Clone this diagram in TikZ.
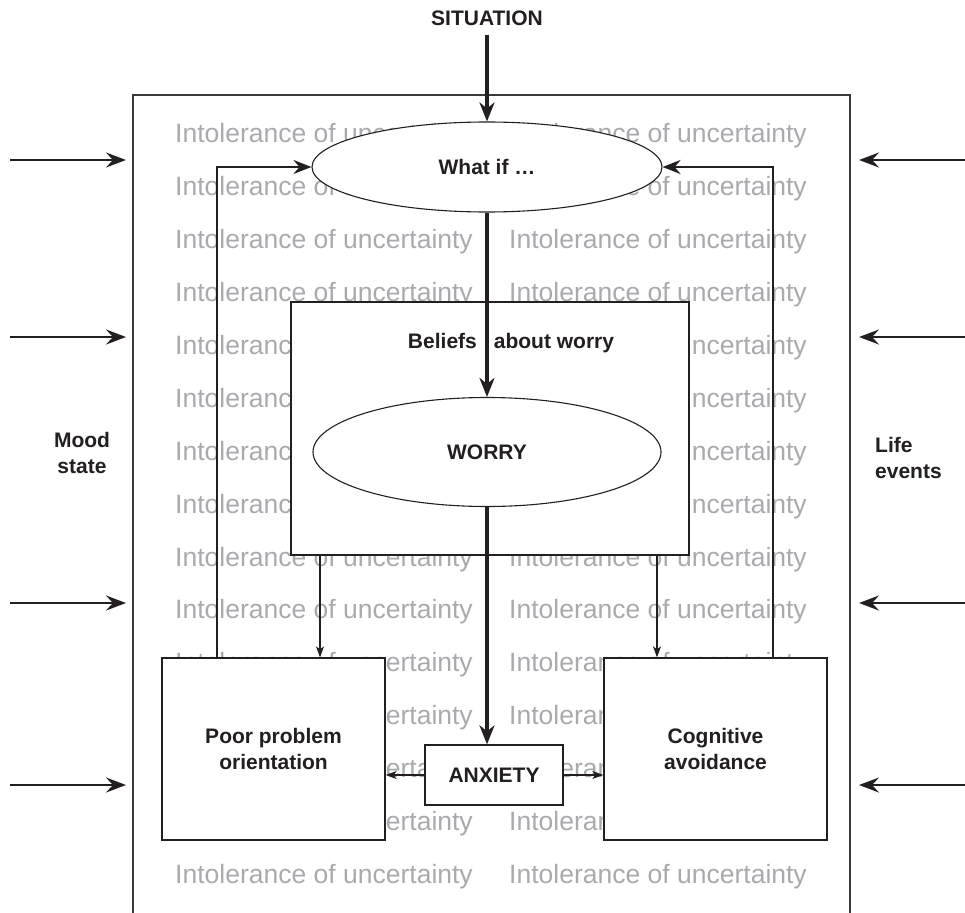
\documentclass[tikz,border=0pt]{standalone}
\usepackage{fontspec}
\setmainfont{Liberation Sans}
\usepackage{xcolor}
\definecolor{ink}{HTML}{231F20}
\definecolor{watermark}{HTML}{A9AAAE}
\definecolor{framegray}{HTML}{3A3A3C}
\usetikzlibrary{arrows.meta,positioning,shapes}

\begin{document}
\begin{tikzpicture}[x=1pt,y=-1pt,
  label/.style={text=ink,font=\fontsize{21}{26}\selectfont\bfseries,align=center,inner sep=0pt},
  box/.style={draw=ink,line width=1.3pt,fill=white,label},
  oval/.style={ellipse,draw=ink,line width=1.1pt,fill=white,label},
  wm/.style={text=watermark,font=\fontsize{26.5}{30}\selectfont,inner sep=0pt},
  bigarrow/.style={ink,line width=3.4pt,-{Stealth[length=19pt,width=15pt,inset=6pt]}},
  fbarrow/.style={ink,line width=2.6pt,-{Stealth[length=18pt,width=14pt,inset=6pt]}},
  smallarrow/.style={ink,line width=1.1pt,-{Stealth[length=11pt,width=8pt,inset=3pt]}},
  sidearrow/.style={ink,line width=2.4pt,-{Stealth[length=20pt,width=15pt,inset=7pt]}}]
  \useasboundingbox (0,0) rectangle (965,912);

  % Background text
  \foreach \r in {0,...,14} {
    \pgfmathsetmacro{\ypos}{136+52.9*\r}
    \node[wm] (wl\r) at (324,\ypos) {Intolerance of uncertainty};
    \node[wm] (wr\r) at (658,\ypos) {Intolerance of uncertainty};
  }

  % Outer frame (open at the bottom)
  \draw[framegray,line width=1.2pt] (133,915) |- (850,95) -- (850,915);

  % Nodes
  \node[label] (situation) at (487,18) {SITUATION};
  \node[oval,minimum width=350pt,minimum height=90pt] (whatif) at (487,167) {What if \dots};
  \node[box,minimum width=398pt,minimum height=253pt] (beliefs) at (490,428.5) {};
  \node[label] (beliefslabel) at (511,343) {Beliefs\hspace{17pt}about worry};
  \node[oval,minimum width=348pt,minimum height=109pt] (worry) at (487,452) {WORRY};
  \node[box,minimum width=223pt,minimum height=182pt] (poor) at (273.5,749) {Poor problem\\orientation};
  \node[box,minimum width=223pt,minimum height=182pt] (cognitive) at (715.5,749) {Cognitive\\avoidance};
  \node[box,minimum width=138pt,minimum height=60pt] (anxiety) at (494,775) {ANXIETY};
  \node[label] (mood) at (82,453) {Mood\\state};
  \node[label,align=left,anchor=west] (life) at (875,458) {Life\\events};

  % Main chain
  \draw[bigarrow] ([yshift=-9pt]situation.south) -- (whatif.north);
  \draw[bigarrow] (whatif.south) -- (worry.north);
  \draw[bigarrow] (worry.south) -- (worry.south |- anxiety.north);

  % Feedback loops
  \draw[fbarrow] ([xshift=-56.5pt]poor.north) |- (whatif.west);
  \draw[fbarrow] ([xshift=57.5pt]cognitive.north) |- (whatif.east);

  % Beliefs to coping
  \draw[smallarrow] ([xshift=46.5pt]poor.north |- beliefs.south) -- ([xshift=46.5pt]poor.north);
  \draw[smallarrow] ([xshift=-58.5pt]cognitive.north |- beliefs.south) -- ([xshift=-58.5pt]cognitive.north);
  \draw[smallarrow] (anxiety.west) -- (anxiety.west -| poor.east);
  \draw[smallarrow] (anxiety.east) -- (anxiety.east -| cognitive.west);

  % Outside influences
  \foreach \y in {160,337,603,785} {
    \coordinate (inl\y) at (10,\y);
    \coordinate (tipl\y) at (126,\y);
    \coordinate (inr\y) at (966,\y);
    \coordinate (tipr\y) at (859,\y);
    \draw[sidearrow] (inl\y) -- (tipl\y);
    \draw[sidearrow] (inr\y) -- (tipr\y);
  }
\end{tikzpicture}
\end{document}
